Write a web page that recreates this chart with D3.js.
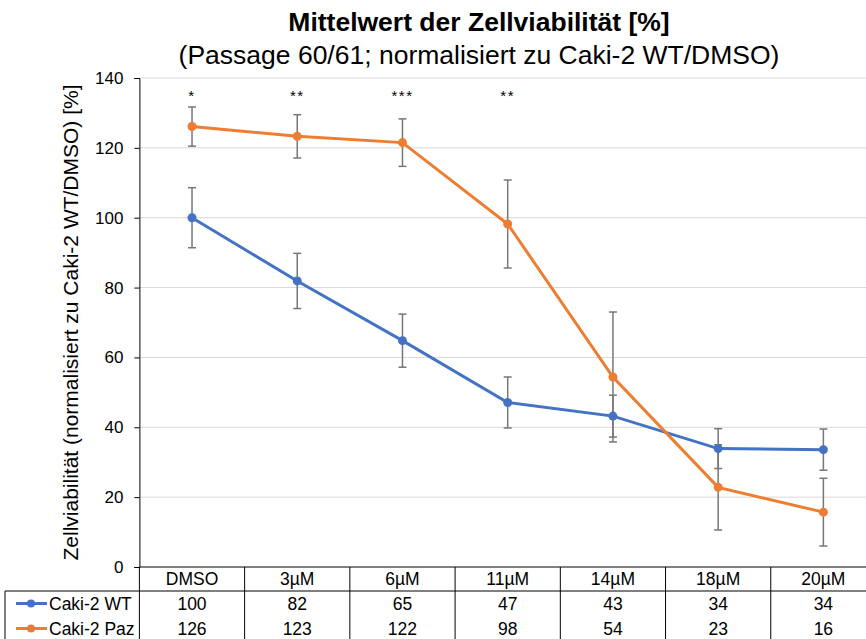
<!DOCTYPE html>
<html>
  <head>
    <meta charset="utf-8">
    <script src="https://d3js.org/d3.v7.min.js"></script>
    <style>
      body { margin: 0; background: #fff; }
      text { font-family: Arial, "Liberation Sans", sans-serif; fill: #000; }
    </style>
  </head>
  <body>
    <div id="chart"></div>

    <script type="text/javascript">
      // categories on the x axis
      var categories = ["DMSO", "3µM", "6µM", "11µM", "14µM", "18µM", "20µM"];

      // mean values
      var wtValues  = [100, 81.9, 64.8, 47.1, 43.2, 33.9, 33.6];
      var pazValues = [126.1, 123.3, 121.5, 98.2, 54.4, 22.8, 15.7];

      // error bar half-widths
      var wtErrors  = [8.6, 7.9, 7.6, 7.3, 6.0, 5.7, 5.9];
      var pazErrors = [5.6, 6.2, 6.8, 12.6, 18.6, 12.2, 9.7];

      // numbers shown in the data table
      var wtTable  = ["100", "82", "65", "47", "43", "34", "34"];
      var pazTable = ["126", "123", "122", "98", "54", "23", "16"];

      // significance marks above each group
      var stars = ["*", "**", "***", "**", "", "", ""];

      var yTicks = [0, 20, 40, 60, 80, 100, 120, 140];

      var series = [
        { name: "Caki-2 WT",  color: "#4472C4", values: wtValues,  errors: wtErrors,  table: wtTable },
        { name: "Caki-2 Paz", color: "#ED7D31", values: pazValues, errors: pazErrors, table: pazTable }
      ];

      var width = 866,
          height = 639;
      var margin = { left: 139.4, right: 876, top: 78, bottom: 567 };

      var svg = d3.select("#chart").append("svg")
        .attr("width", width)
        .attr("height", height);

      var x = d3.scaleBand()
        .domain(categories)
        .range([margin.left, margin.right]);

      var y = d3.scaleLinear()
        .domain([0, 140])
        .range([margin.bottom, margin.top]);

      function cx(i) { return x(categories[i]) + x.bandwidth() / 2; }

      // Titles
      svg.append("text")
        .attr("x", 479).attr("y", 31)
        .attr("text-anchor", "middle")
        .style("font-size", "26.5px").style("font-weight", "bold")
        .text("Mittelwert der Zellviabilität [%]");
      svg.append("text")
        .attr("x", 479).attr("y", 64)
        .attr("text-anchor", "middle")
        .style("font-size", "26.5px")
        .text("(Passage 60/61; normalisiert zu Caki-2 WT/DMSO)");

      // gridlines
      svg.append("g")
        .selectAll("line")
        .data(yTicks.filter(function(d) { return d > 0; }))
        .enter().append("line")
          .attr("x1", margin.left).attr("x2", margin.right)
          .attr("y1", function(d) { return y(d); })
          .attr("y2", function(d) { return y(d); })
          .attr("stroke", "#d9d9d9").attr("stroke-width", 1);

      // y axis
      var yAxis = d3.axisLeft(y).tickValues(yTicks).tickSize(5).tickPadding(11);
      var gy = svg.append("g")
        .attr("transform", "translate(" + margin.left + ",0)")
        .call(yAxis);
      gy.select(".domain").attr("stroke", "#000");
      gy.selectAll(".tick line").attr("stroke", "#000");
      gy.selectAll(".tick text")
        .style("font-size", "17px")
        .style("font-family", "Arial, 'Liberation Sans', sans-serif")
        .attr("fill", "#000");

      // y axis title
      svg.append("text")
        .attr("transform", "translate(78," + ((margin.top + margin.bottom) / 2) + ") rotate(-90)")
        .attr("text-anchor", "middle")
        .style("font-size", "21px")
        .text("Zellviabilität (normalisiert zu Caki-2 WT/DMSO) [%]");

      // significance stars
      svg.append("g")
        .selectAll("text")
        .data(stars)
        .enter().append("text")
          .attr("x", function(d, i) { return cx(i); })
          .attr("y", 101)
          .attr("text-anchor", "middle")
          .style("font-size", "15px")
          .style("letter-spacing", "1.5px")
          .text(function(d) { return d; });

      // series: error bars, line, markers
      var line = d3.line()
        .x(function(d, i) { return cx(i); })
        .y(function(d) { return y(d); });

      series.forEach(function(s) {
        var g = svg.append("g");

        var eb = g.selectAll(".err")
          .data(s.values)
          .enter().append("g").attr("class", "err");
        eb.append("line")
          .attr("x1", function(d, i) { return cx(i); })
          .attr("x2", function(d, i) { return cx(i); })
          .attr("y1", function(d, i) { return y(d + s.errors[i]); })
          .attr("y2", function(d, i) { return y(d - s.errors[i]); });
        eb.append("line")
          .attr("x1", function(d, i) { return cx(i) - 4; })
          .attr("x2", function(d, i) { return cx(i) + 4; })
          .attr("y1", function(d, i) { return y(d + s.errors[i]); })
          .attr("y2", function(d, i) { return y(d + s.errors[i]); });
        eb.append("line")
          .attr("x1", function(d, i) { return cx(i) - 4; })
          .attr("x2", function(d, i) { return cx(i) + 4; })
          .attr("y1", function(d, i) { return y(d - s.errors[i]); })
          .attr("y2", function(d, i) { return y(d - s.errors[i]); });
        eb.selectAll("line")
          .attr("stroke", "#777").attr("stroke-width", 1.5);
      });

      series.forEach(function(s) {
        svg.append("path")
          .datum(s.values)
          .attr("d", line)
          .attr("fill", "none")
          .attr("stroke", s.color)
          .attr("stroke-width", 3);
        svg.append("g")
          .selectAll("circle")
          .data(s.values)
          .enter().append("circle")
            .attr("cx", function(d, i) { return cx(i); })
            .attr("cy", function(d) { return y(d); })
            .attr("r", 4.5)
            .attr("fill", s.color);
      });

      // data table
      var headH = 24, rowH = 25;
      var tableTop = margin.bottom;
      var table = svg.append("g");

      // header labels
      table.selectAll(".hdr")
        .data(categories)
        .enter().append("text")
          .attr("x", function(d, i) { return cx(i); })
          .attr("y", tableTop + headH / 2 + 6)
          .attr("text-anchor", "middle")
          .style("font-size", "17.5px")
          .text(function(d) { return d; });

      series.forEach(function(s, r) {
        var rowMid = tableTop + headH + rowH * r + rowH / 2;
        table.selectAll(".v" + r)
          .data(s.table)
          .enter().append("text")
            .attr("x", function(d, i) { return cx(i); })
            .attr("y", rowMid + 6)
            .attr("text-anchor", "middle")
            .style("font-size", "17.5px")
            .text(function(d) { return d; });

        // legend key
        table.append("line")
          .attr("x1", 16).attr("x2", 47)
          .attr("y1", rowMid).attr("y2", rowMid)
          .attr("stroke", s.color).attr("stroke-width", 3);
        table.append("circle")
          .attr("cx", 31).attr("cy", rowMid).attr("r", 4)
          .attr("fill", s.color);
        table.append("text")
          .attr("x", 49).attr("y", rowMid + 6)
          .style("font-size", "17.5px")
          .text(s.name);
      });

      // table grid
      var gridColor = "#000";
      var tableBottom = tableTop + headH + rowH * 2;
      table.append("line")
        .attr("x1", margin.left).attr("x2", margin.right)
        .attr("y1", tableTop).attr("y2", tableTop)
        .attr("stroke", gridColor);
      table.append("line")
        .attr("x1", 5).attr("x2", margin.right)
        .attr("y1", tableTop + headH).attr("y2", tableTop + headH)
        .attr("stroke", gridColor);
      table.append("line")
        .attr("x1", 5).attr("x2", 5)
        .attr("y1", tableTop + headH).attr("y2", tableBottom)
        .attr("stroke", gridColor);
      table.selectAll(".vl")
        .data(categories)
        .enter().append("line")
          .attr("x1", function(d) { return x(d); })
          .attr("x2", function(d) { return x(d); })
          .attr("y1", tableTop)
          .attr("y2", tableBottom)
          .attr("stroke", gridColor);
    </script>
  </body>
</html>
